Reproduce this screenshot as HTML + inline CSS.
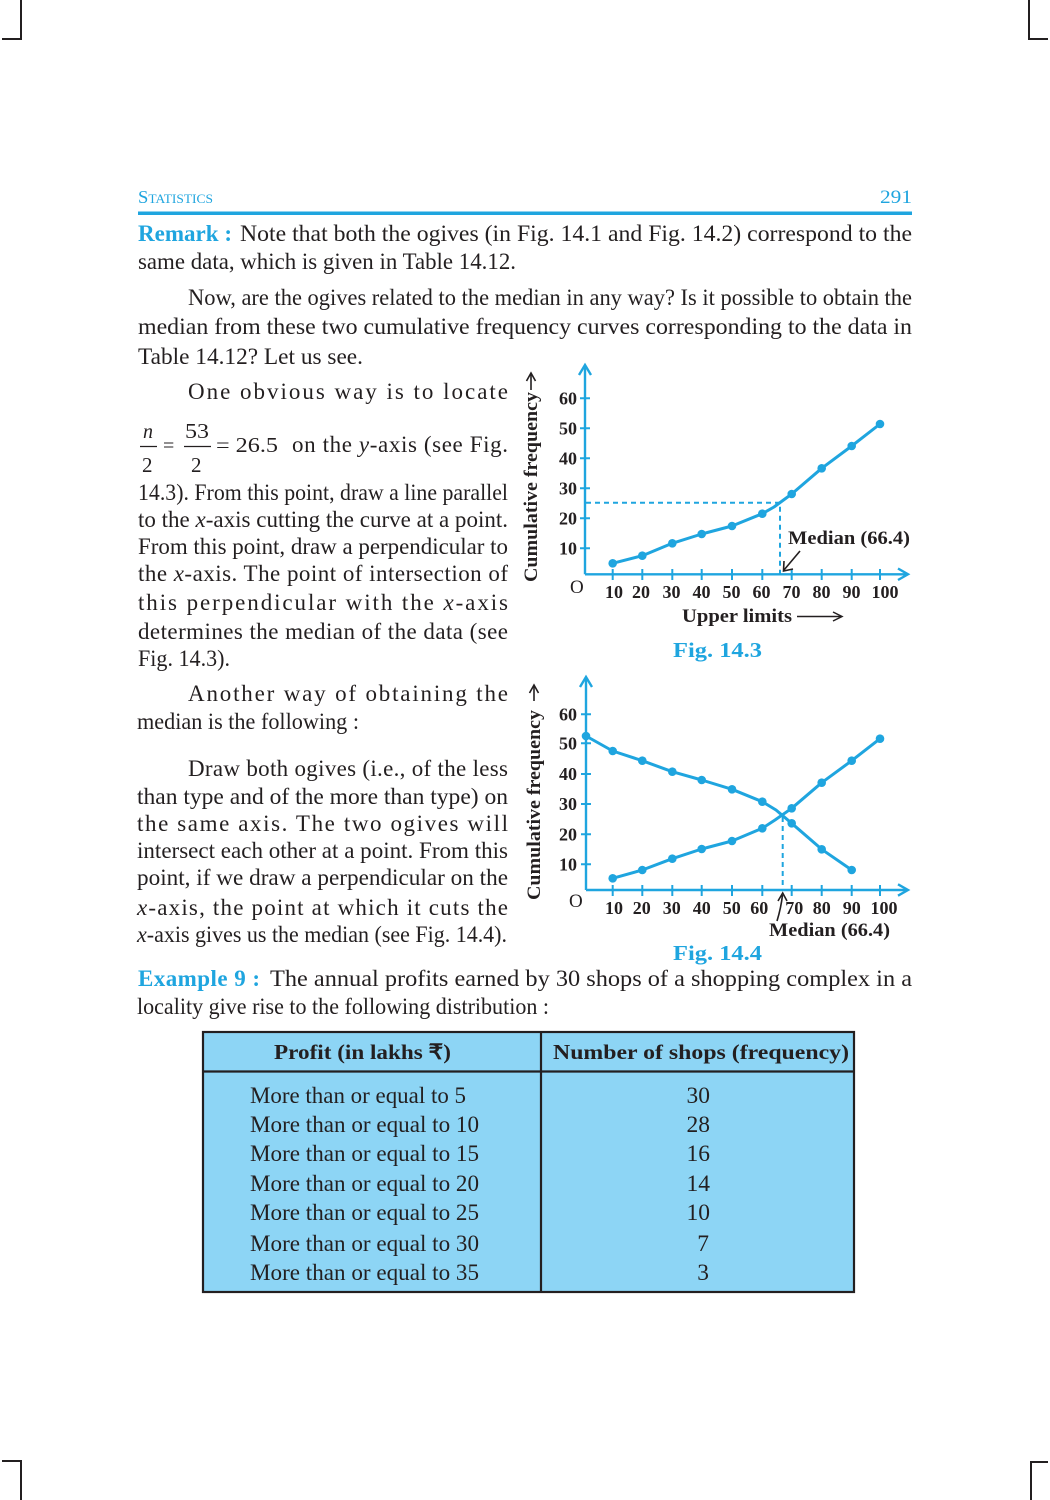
<!DOCTYPE html>
<html>
<head>
<meta charset="utf-8">
<style>
  html, body { margin:0; padding:0; background:#fff; }
  body { width:1050px; height:1500px; overflow:hidden; position:relative; }
  svg { position:absolute; left:0; top:0; }
  .t { font-family:"Liberation Serif", serif; font-size:23px; fill:#231f20; }
  .b { font-weight:bold; }
  .blue { fill:#1fa5df; }
  .ax { font-family:"Liberation Serif", serif; font-weight:bold; font-size:18px; fill:#231f20; }
  .i { font-style:italic; }
  .tb { font-size:23.5px; }
</style>
</head>
<body>
<svg width="1050" height="1500" viewBox="0 0 1050 1500" xmlns="http://www.w3.org/2000/svg">
  <!-- corner marks -->
  <g stroke="#231f20" stroke-width="2" fill="none">
    <path d="M21 0 V39 H2"/>
    <path d="M1029 0 V39 H1048"/>
    <path d="M21 1500 V1461 H2"/>
    <path d="M1031 1500 V1462 H1048"/>
  </g>

  <!-- header -->
  <text x="138" y="203" class="t blue" style="font-size:18px" textLength="75" lengthAdjust="spacingAndGlyphs">S<tspan style="font-size:13px">TATISTICS</tspan></text>
  <text x="880" y="203" class="t blue" style="font-size:19px" textLength="32" lengthAdjust="spacingAndGlyphs">291</text>
  <rect x="138" y="211.5" width="774" height="3.5" fill="#1fa5df"/>

  <!-- remark -->
  <text x="138" y="241" class="t b blue" textLength="94" lengthAdjust="spacingAndGlyphs">Remark :</text>
  <text x="240" y="241" class="t" textLength="672" lengthAdjust="spacingAndGlyphs">Note that both the ogives (in Fig. 14.1 and Fig. 14.2) correspond to the</text>
  <text x="138" y="269" class="t" textLength="378" lengthAdjust="spacingAndGlyphs">same data, which is given in Table 14.12.</text>

  <text x="188" y="305" class="t" textLength="724" lengthAdjust="spacingAndGlyphs">Now, are the ogives related to the median in any way? Is it possible to obtain the</text>
  <text x="138" y="334" class="t" textLength="774" lengthAdjust="spacingAndGlyphs">median from these two cumulative frequency curves corresponding to the data in</text>
  <text x="138" y="364" class="t" textLength="225" lengthAdjust="spacingAndGlyphs">Table 14.12? Let us see.</text>

  <!-- left column paragraph 1 -->
  <text x="188" y="399" class="t" textLength="320" lengthAdjust="spacing">One obvious way is to locate</text>
  <text x="143" y="438" class="t i" style="font-size:20px">n</text>
  <line x1="140" y1="446.5" x2="157" y2="446.5" stroke="#231f20" stroke-width="1.3"/>
  <text x="142" y="472" class="t" style="font-size:21px">2</text>
  <text x="163" y="452" class="t" style="font-size:20px">=</text>
  <text x="185" y="438" class="t" style="font-size:21px" textLength="24" lengthAdjust="spacingAndGlyphs">53</text>
  <line x1="184" y1="446.5" x2="211" y2="446.5" stroke="#231f20" stroke-width="1.3"/>
  <text x="191" y="472" class="t" style="font-size:21px">2</text>
  <text x="216" y="452" class="t" style="font-size:21px" textLength="62" lengthAdjust="spacingAndGlyphs">= 26.5</text>
  <text x="292" y="452" class="t" textLength="216" lengthAdjust="spacing">on the <tspan class="i">y</tspan>-axis (see Fig.</text>
  <text x="138" y="500" class="t" textLength="370" lengthAdjust="spacingAndGlyphs">14.3). From this point, draw a line parallel</text>
  <text x="138" y="527" class="t" textLength="370" lengthAdjust="spacingAndGlyphs">to the <tspan class="i">x</tspan>-axis cutting the curve at a point.</text>
  <text x="138" y="554" class="t" textLength="370" lengthAdjust="spacingAndGlyphs">From this point, draw a perpendicular to</text>
  <text x="138" y="581" class="t" textLength="370" lengthAdjust="spacing">the <tspan class="i">x</tspan>-axis. The point of intersection of</text>
  <text x="138" y="610" class="t" textLength="370" lengthAdjust="spacing">this perpendicular with the <tspan class="i">x</tspan>-axis</text>
  <text x="138" y="639" class="t" textLength="370" lengthAdjust="spacing">determines the median of the data (see</text>
  <text x="138" y="666" class="t" textLength="92" lengthAdjust="spacingAndGlyphs">Fig. 14.3).</text>

  <!-- left column paragraph 2 -->
  <text x="188" y="701" class="t" textLength="320" lengthAdjust="spacing">Another way of obtaining the</text>
  <text x="137" y="729" class="t" textLength="222" lengthAdjust="spacingAndGlyphs">median is the following :</text>
  <text x="188" y="776" class="t" textLength="320" lengthAdjust="spacing">Draw both ogives (i.e., of the less</text>
  <text x="137" y="804" class="t" textLength="371" lengthAdjust="spacingAndGlyphs">than type and of the more than type) on</text>
  <text x="137" y="831" class="t" textLength="371" lengthAdjust="spacing">the same axis. The two ogives will</text>
  <text x="137" y="858" class="t" textLength="371" lengthAdjust="spacingAndGlyphs">intersect each other at a point. From this</text>
  <text x="137" y="885" class="t" textLength="371" lengthAdjust="spacingAndGlyphs">point, if we draw a perpendicular on the</text>
  <text x="137" y="915" class="t" textLength="371" lengthAdjust="spacing"><tspan class="i">x</tspan>-axis, the point  at which it cuts the</text>
  <text x="137" y="942" class="t" textLength="370" lengthAdjust="spacingAndGlyphs"><tspan class="i">x</tspan>-axis gives us the median (see Fig. 14.4).</text>

  <!-- Example 9 -->
  <text x="138" y="986" class="t b blue" textLength="122" lengthAdjust="spacing">Example 9 :</text>
  <text x="270" y="986" class="t" textLength="642" lengthAdjust="spacingAndGlyphs">The annual profits earned by 30 shops of a shopping complex in a</text>
  <text x="137" y="1014" class="t" textLength="412" lengthAdjust="spacingAndGlyphs">locality give rise to the following distribution :</text>

  <!-- table -->
  <rect x="203" y="1032" width="651" height="260" fill="#8dd5f5" stroke="#231f20" stroke-width="2.2"/>
  <line x1="203" y1="1071.5" x2="854" y2="1071.5" stroke="#231f20" stroke-width="2.2"/>
  <line x1="541" y1="1032" x2="541" y2="1292" stroke="#231f20" stroke-width="2.2"/>
  <text x="274" y="1059" class="t b" style="font-size:21px" textLength="177" lengthAdjust="spacingAndGlyphs">Profit (in lakhs ₹)</text>
  <text x="553" y="1059" class="t b" style="font-size:21px" textLength="296" lengthAdjust="spacingAndGlyphs">Number of shops (frequency)</text>
  <g>
    <text x="250" y="1103" class="t tb" textLength="216" lengthAdjust="spacingAndGlyphs">More than or equal to 5</text>
    <text x="250" y="1132" class="t tb" textLength="229" lengthAdjust="spacingAndGlyphs">More than or equal to 10</text>
    <text x="250" y="1161" class="t tb" textLength="229" lengthAdjust="spacingAndGlyphs">More than or equal to 15</text>
    <text x="250" y="1191" class="t tb" textLength="229" lengthAdjust="spacingAndGlyphs">More than or equal to 20</text>
    <text x="250" y="1220" class="t tb" textLength="229" lengthAdjust="spacingAndGlyphs">More than or equal to 25</text>
    <text x="250" y="1251" class="t tb" textLength="229" lengthAdjust="spacingAndGlyphs">More than or equal to 30</text>
    <text x="250" y="1280" class="t tb" textLength="229" lengthAdjust="spacingAndGlyphs">More than or equal to 35</text>
  </g>
  <g text-anchor="end">
    <text x="710" y="1103" class="t tb">30</text>
    <text x="710" y="1132" class="t tb">28</text>
    <text x="710" y="1161" class="t tb">16</text>
    <text x="710" y="1191" class="t tb">14</text>
    <text x="710" y="1220" class="t tb">10</text>
    <text x="709" y="1251" class="t tb">7</text>
    <text x="709" y="1280" class="t tb">3</text>
  </g>

  <!-- ================= CHART 1 (Fig 14.3) ================= -->
  <g stroke="#1fa5df" fill="none" stroke-width="2.4">
    <line x1="585" y1="574.3" x2="585" y2="366"/>
    <path d="M579 375 L585 365 L591 375"/>
    <line x1="585" y1="574.3" x2="907" y2="574.3"/>
    <path d="M898 568.5 L908 574.3 L898 580"/>
    <path d="M580 548.3 H590 M580 518.3 H590 M580 488.3 H590 M580 458.3 H590 M580 428.3 H590 M580 398.3 H590" stroke-width="2"/>
    <path d="M612.7 569 V580 M642.3 569 V580 M672.3 569 V580 M701.7 569 V580 M732 569 V580 M762.3 569 V580 M791.7 569 V580 M821.7 569 V580 M851.7 569 V580 M880 569 V580" stroke-width="2"/>
    <path d="M586 502.7 H780 V574" stroke-width="2" stroke-dasharray="5,4"/>
    <polyline stroke-width="3" stroke-linejoin="round" points="612.7,563.3 642.3,555.7 672.3,543.3 701.7,534 732,526 762.3,513.7 774,507 791.7,494 821.7,468.3 851.7,446 880,424"/>
  </g>
  <g fill="#1fa5df">
    <circle cx="612.7" cy="563.3" r="4.3"/><circle cx="642.3" cy="555.7" r="4.3"/>
    <circle cx="672.3" cy="543.3" r="4.3"/><circle cx="701.7" cy="534" r="4.3"/>
    <circle cx="732" cy="526" r="4.3"/><circle cx="762.3" cy="513.7" r="4.3"/>
    <circle cx="791.7" cy="494" r="4.3"/><circle cx="821.7" cy="468.3" r="4.3"/>
    <circle cx="851.7" cy="446" r="4.3"/><circle cx="880" cy="424" r="4.3"/>
  </g>
  <g class="ax" text-anchor="end">
    <text x="577" y="554.5">10</text><text x="577" y="524.5">20</text>
    <text x="577" y="494.5">30</text><text x="577" y="464.5">40</text>
    <text x="577" y="434.5">50</text><text x="577" y="404.5">60</text>
  </g>
  <text x="570" y="593" class="t" style="font-size:19px">O</text>
  <g class="ax" text-anchor="middle">
    <text x="614" y="598">10</text><text x="641" y="598">20</text>
    <text x="671.5" y="598">30</text><text x="701.5" y="598">40</text>
    <text x="731.5" y="598">50</text><text x="761.5" y="598">60</text>
    <text x="791.5" y="598">70</text><text x="821.5" y="598">80</text>
    <text x="851.5" y="598">90</text><text x="885" y="598">100</text>
  </g>
  <text x="682" y="622" class="ax" style="font-size:19px" textLength="110" lengthAdjust="spacingAndGlyphs">Upper limits</text>
  <g stroke="#231f20" stroke-width="1.5" fill="none">
    <line x1="797" y1="616.5" x2="841" y2="616.5"/>
    <path d="M833 612 L842 616.5 L833 621"/>
  </g>
  <text x="788" y="544" class="ax" style="font-size:19px" textLength="122" lengthAdjust="spacingAndGlyphs">Median (66.4)</text>
  <g stroke="#231f20" stroke-width="1.6" fill="none">
    <line x1="800" y1="551" x2="784" y2="570"/>
    <path d="M784 561 L783.5 571 L793 569"/>
  </g>
  <text x="673" y="657" class="t b blue" style="font-size:21px" textLength="89" lengthAdjust="spacingAndGlyphs">Fig. 14.3</text>
  <g transform="translate(537,582) rotate(-90)">
    <text x="0" y="0" class="ax" style="font-size:19px" textLength="190" lengthAdjust="spacingAndGlyphs">Cumulative frequency</text>
  </g>
  <g stroke="#231f20" stroke-width="1.6" fill="none">
    <line x1="531" y1="390" x2="531" y2="374"/>
    <path d="M526.5 381 L531 373 L535.5 381"/>
  </g>

  <!-- ================= CHART 2 (Fig 14.4) ================= -->
  <g stroke="#1fa5df" fill="none" stroke-width="2.4">
    <line x1="586" y1="890" x2="586" y2="678"/>
    <path d="M580 687 L586 677 L592 687"/>
    <line x1="586" y1="890" x2="907" y2="890"/>
    <path d="M898 884.3 L908 890 L898 895.7"/>
    <path d="M581 864.3 H591 M581 834.3 H591 M581 804 H591 M581 774 H591 M581 743.3 H591 M581 714.3 H591" stroke-width="2"/>
    <path d="M612.7 885 V896 M642.3 885 V896 M672.3 885 V896 M701.7 885 V896 M732 885 V896 M762.3 885 V896 M791.7 885 V896 M821.7 885 V896 M851.7 885 V896 M880 885 V896" stroke-width="2"/>
    <path d="M782.7 817 V890" stroke-width="2" stroke-dasharray="5,4"/>
    <polyline stroke-width="3" stroke-linejoin="round" points="612.7,878.3 642.3,870 672.3,858.7 701.7,849 732,841 762.3,828.3 775,820 791.7,808.3 821.7,782.7 851.7,760.7 880,738.7"/>
    <polyline stroke-width="3" stroke-linejoin="round" points="586,736 612.7,751 642.3,760.7 672.3,771.7 701.7,780 732,789.3 762.3,801.7 776,810 791.7,823.3 821.7,849.3 851.7,870"/>
  </g>
  <g fill="#1fa5df">
    <circle cx="612.7" cy="878.3" r="4.3"/><circle cx="642.3" cy="870" r="4.3"/>
    <circle cx="672.3" cy="858.7" r="4.3"/><circle cx="701.7" cy="849" r="4.3"/>
    <circle cx="732" cy="841" r="4.3"/><circle cx="762.3" cy="828.3" r="4.3"/>
    <circle cx="791.7" cy="808.3" r="4.3"/><circle cx="821.7" cy="782.7" r="4.3"/>
    <circle cx="851.7" cy="760.7" r="4.3"/><circle cx="880" cy="738.7" r="4.3"/>
    <circle cx="586" cy="736" r="4.3"/><circle cx="612.7" cy="751" r="4.3"/>
    <circle cx="642.3" cy="760.7" r="4.3"/><circle cx="672.3" cy="771.7" r="4.3"/>
    <circle cx="701.7" cy="780" r="4.3"/><circle cx="732" cy="789.3" r="4.3"/>
    <circle cx="762.3" cy="801.7" r="4.3"/><circle cx="791.7" cy="823.3" r="4.3"/>
    <circle cx="821.7" cy="849.3" r="4.3"/><circle cx="851.7" cy="870" r="4.3"/>
  </g>
  <g class="ax" text-anchor="end">
    <text x="577" y="870.5">10</text><text x="577" y="840.5">20</text>
    <text x="577" y="810">30</text><text x="577" y="780">40</text>
    <text x="577" y="749.5">50</text><text x="577" y="720.5">60</text>
  </g>
  <text x="569" y="907" class="t" style="font-size:19px">O</text>
  <g class="ax" text-anchor="middle">
    <text x="614" y="914">10</text><text x="641.7" y="914">20</text>
    <text x="671.7" y="914">30</text><text x="701.7" y="914">40</text>
    <text x="731.7" y="914">50</text><text x="759.2" y="914">60</text>
    <text x="794.2" y="914">70</text><text x="821.7" y="914">80</text>
    <text x="851.7" y="914">90</text><text x="884" y="914">100</text>
  </g>
  <g stroke="#231f20" stroke-width="1.6" fill="none">
    <path d="M777 921 Q781 908 782.5 895"/>
    <path d="M778 901 L782.7 893 L787 901"/>
  </g>
  <text x="769" y="936" class="ax" style="font-size:19px" textLength="121" lengthAdjust="spacingAndGlyphs">Median (66.4)</text>
  <text x="673" y="960" class="t b blue" style="font-size:21px" textLength="89" lengthAdjust="spacingAndGlyphs">Fig. 14.4</text>
  <g transform="translate(540,900) rotate(-90)">
    <text x="0" y="0" class="ax" style="font-size:19px" textLength="190" lengthAdjust="spacingAndGlyphs">Cumulative frequency</text>
  </g>
  <g stroke="#231f20" stroke-width="1.6" fill="none">
    <line x1="534" y1="701" x2="534" y2="686"/>
    <path d="M529.5 693 L534 685 L538.5 693"/>
  </g>
</svg>
</body>
</html>
